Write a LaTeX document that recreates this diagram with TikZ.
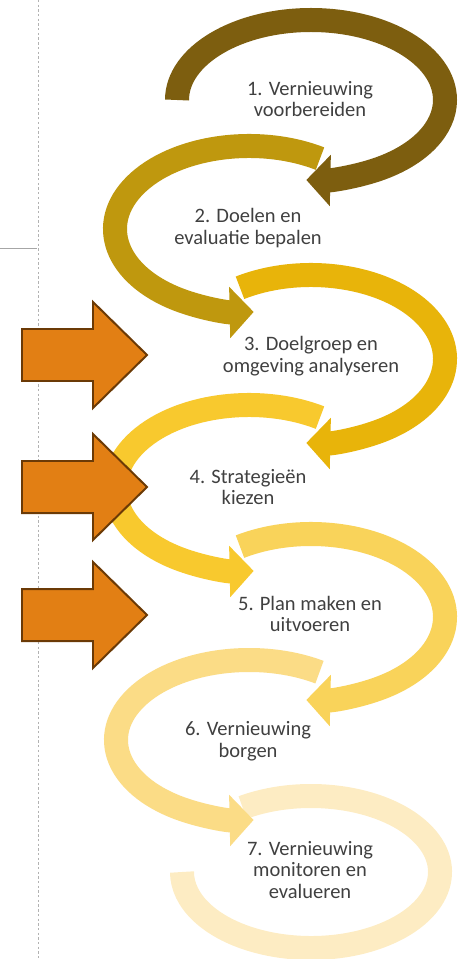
\documentclass[tikz,border=0pt]{standalone}
\usepackage{fontspec}
\setmainfont{Carlito}
\usetikzlibrary{arrows.meta}
\definecolor{stepone}{HTML}{7D5E0F}
\definecolor{steptwo}{HTML}{BF980E}
\definecolor{stepthree}{HTML}{E8B40A}
\definecolor{stepfour}{HTML}{F8C92E}
\definecolor{stepfive}{HTML}{F9D35A}
\definecolor{stepsix}{HTML}{FBDC86}
\definecolor{stepseven}{HTML}{FDECC3}
\definecolor{pointerfill}{HTML}{E27F14}
\definecolor{pointerline}{HTML}{6B3A06}
\definecolor{textgray}{HTML}{404040}
\tikzset{
	band/.style={line width=0.72cm, -{Triangle[length=0.72cm,width=1.5cm]}},
	halo/.style={line width=0.84cm, white, -{Triangle[length=0.86cm,width=1.72cm]}},
	steptext/.style={align=center, inner sep=0pt, text=textgray, font=\fontsize{17.5}{18.3}\selectfont},
	pointer/.style={fill=pointerfill, draw=pointerline, line width=1.7pt, line join=miter},
}
\begin{document}
	\begin{tikzpicture}[x=0.03cm, y=0.03cm]
		\useasboundingbox (0,0) rectangle (465,-959);
		\draw[gray!60, dash pattern=on 2pt off 2pt] (38,0) -- (38,-959);
		\draw[gray!70] (0,-248) -- (37,-248);
		% cycle of steps, last one first
		\draw[line width=0.72cm, stepseven] ({311+129*cos(122)},{-872+76*sin(122)}) arc[start angle=122, end angle=-180, x radius=129, y radius=76];
		\foreach \cx/\cy/\rx/\ry/\sa/\ea/\col in {249/740/133/80/58/272/stepsix, 311/617/134/83/122/-92/stepfive, 249/488/134/83/58/272/stepfour, 311/359/134/84/122/-92/stepthree, 249/229/134/83/58/272/steptwo, 311/100/134/80/180/-92/stepone}
		{
			\draw[halo] ({\cx+\rx*cos(\sa)},{-\cy+\ry*sin(\sa)}) arc[start angle=\sa, end angle=\ea, x radius=\rx, y radius=\ry];
			\draw[band, draw=\col] ({\cx+\rx*cos(\sa)},{-\cy+\ry*sin(\sa)}) arc[start angle=\sa, end angle=\ea, x radius=\rx, y radius=\ry];
		}
		\node[steptext] (voorbereiden) at (310,-99) {1. Vernieuwing\\voorbereiden};
		\node[steptext] (doelen) at (248,-228) {2. Doelen en\\evaluatie bepalen};
		\node[steptext] (doelgroep) at (311,-356) {3. Doelgroep en\\omgeving analyseren};
		\node[steptext] (strategie) at (248,-487) {4. Strategieën\\kiezen};
		\node[steptext] (plan) at (310,-614) {5. Plan maken en\\uitvoeren};
		\node[steptext] (borgen) at (248,-741) {6. Vernieuwing\\borgen};
		\node[steptext] (monitoren) at (310,-870) {7. Vernieuwing\\monitoren en\\evalueren};
		% pointers
		\foreach \c in {355,487,615}
			\draw[pointer] (22,-\c+26) -- (93,-\c+26) -- (93,-\c+53) -- (147,-\c) -- (93,-\c-53) -- (93,-\c-26) -- (22,-\c-26) -- cycle;
	\end{tikzpicture}
\end{document}
